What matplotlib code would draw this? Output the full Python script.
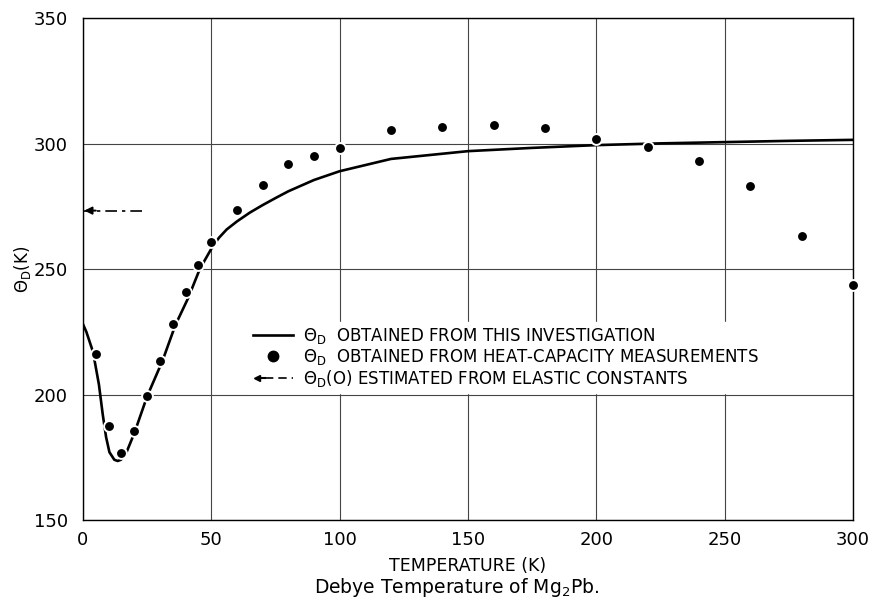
import matplotlib
matplotlib.use("Agg")
import matplotlib.pyplot as plt
from matplotlib.lines import Line2D
from matplotlib.legend_handler import HandlerBase

# Debye temperature of Mg2Pb
# curve: this investigation
curve_t = [0, 1.3, 3.9, 6.2, 7.7, 9, 10.3, 12.2, 13.5, 14.8, 16.8, 20, 25, 31,
           36, 41, 45.5, 50.5, 53, 56, 60, 65, 70, 75, 80, 90, 100, 120, 150, 175,
           200, 225, 250, 275, 300]
curve_theta = [228, 225, 217, 204, 192, 183, 177, 174, 173.5, 174, 176.6, 184.6,
               199.3, 213.5, 227.7, 238.5, 250, 259, 262.5, 265.8, 269, 272.5,
               275.5, 278.3, 281, 285.5, 289, 293.9, 297, 298.3, 299.4, 300.1,
               300.6, 301.1, 301.5]

# dots: heat-capacity measurements
hc_t = [5, 10, 15, 20, 25, 30, 35, 40, 45, 50, 60, 70, 80, 90, 100, 120, 140,
        160, 180, 200, 220, 240, 260, 280, 300]
hc_theta = [216, 187.3, 176.8, 185.3, 199.3, 213.5, 228.1, 240.9, 251.8, 260.6,
            273.5, 283.7, 292.0, 295.0, 298.2, 305.3, 306.6, 307.3, 306.4, 301.7,
            298.5, 293.0, 283.0, 263.1, 243.6]

# theta_D(0) from elastic constants
theta0 = 273.3
arrow_t = [23, 0]

xticks = [0, 50, 100, 150, 200, 250, 300]
yticks = [150, 200, 250, 300, 350]

plt.rcParams['font.family'] = ['DejaVu Sans']


class ArrowHandler(HandlerBase):
    def create_artists(self, legend, orig, xd, yd, width, height, fontsize, trans):
        y = yd + height / 2
        line = Line2D([xd + width * 0.3, xd + width], [y, y], color='k', lw=1.2,
                      dashes=(5, 3), transform=trans)
        head = Line2D([xd + width * 0.1], [y], marker='<', color='k',
                      markersize=5, transform=trans)
        stem = Line2D([xd + width * 0.1, xd + width * 0.3], [y, y], color='k',
                      lw=1.5, transform=trans)
        return [line, stem, head]


fig = plt.figure(figsize=(8.7, 6.06), dpi=100)
ax = fig.add_axes([0.0954, 0.142, 0.885, 0.828])

ax.plot(curve_t, curve_theta, color='k', lw=1.9, zorder=3)
ax.plot(hc_t, hc_theta, 'o', color='k', markersize=7.8,
        markeredgecolor='white', markeredgewidth=1.4, zorder=4, clip_on=False)

ax.plot(arrow_t, [theta0, theta0], color='k', lw=1.2, dashes=(7, 3, 2, 3))
ax.annotate('', xy=(arrow_t[1] + 0.5, theta0), xytext=(arrow_t[1] + 5, theta0),
            arrowprops=dict(arrowstyle='-|>', color='k', lw=1.4,
                            mutation_scale=11, shrinkA=0, shrinkB=0))

ax.set_xlim(0, 300)
ax.set_ylim(150, 350)
ax.set_xticks(xticks)
ax.set_yticks(yticks)
ax.grid(True, color='#444444', lw=0.8)
ax.set_axisbelow(True)
ax.tick_params(length=0, labelsize=13)
ax.tick_params(axis='x', pad=8)
ax.tick_params(axis='y', pad=11)
for s in ax.spines.values():
    s.set_linewidth(1.0)

ax.set_xlabel('TEMPERATURE (K)', fontsize=12.5, labelpad=6)
ax.set_ylabel(r'$\Theta_{\rm D}$(K)', fontsize=12)
ax.yaxis.set_label_coords(-0.065, 0.5)

handles = [Line2D([], [], color='k', lw=1.9),
           Line2D([], [], marker='o', ls='none', color='k', markersize=7.5),
           object()]
labels = [r'$\Theta_{\rm D}$  OBTAINED FROM THIS INVESTIGATION',
          r'$\Theta_{\rm D}$  OBTAINED FROM HEAT-CAPACITY MEASUREMENTS',
          r'$\Theta_{\rm D}$(O) ESTIMATED FROM ELASTIC CONSTANTS']
leg = ax.legend(handles, labels, handler_map={object: ArrowHandler()},
                loc='upper left', bbox_to_anchor=(0.2045, 0.4116), fontsize=12,
                frameon=True, fancybox=False, framealpha=1, edgecolor='white',
                facecolor='white', handlelength=2.4, handletextpad=0.6,
                labelspacing=0.05, borderpad=0.25)
leg.set_zorder(5)

fig.text(0.525, 0.031, r'Debye Temperature of Mg$_2$Pb.', fontsize=13.5,
         ha='center', va='center')

fig.savefig('out.png', dpi=100)
